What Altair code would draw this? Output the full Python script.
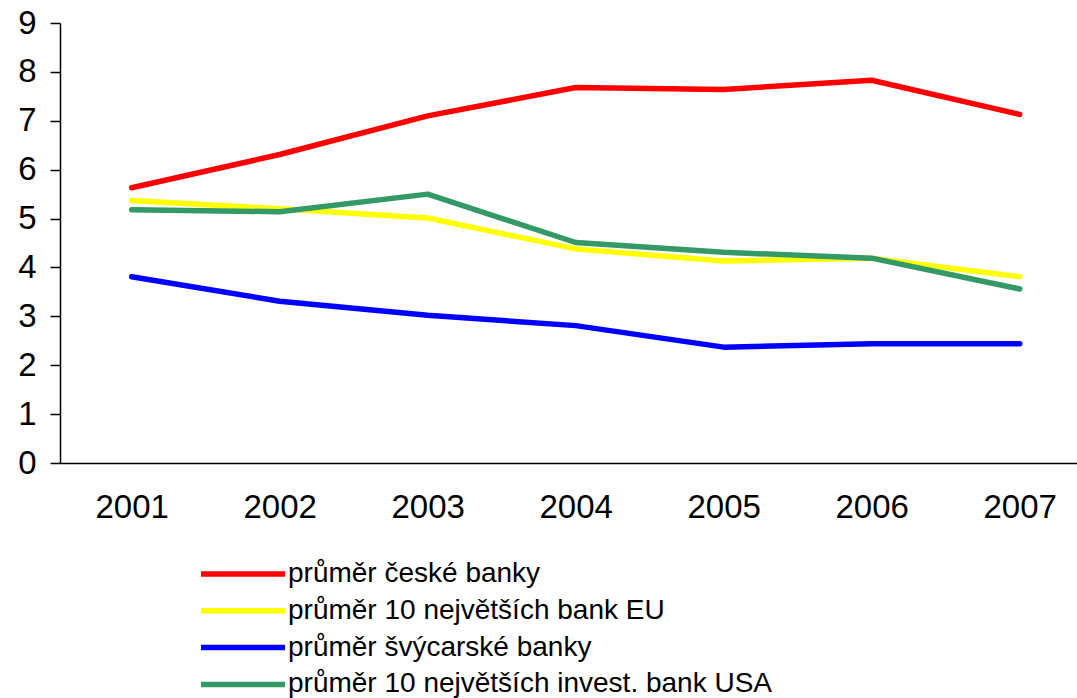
import altair as alt
import pandas as pd

years = [2001, 2002, 2003, 2004, 2005, 2006, 2007]
series_names = [
    "průměr české banky",
    "průměr 10 největších bank EU",
    "průměr švýcarské banky",
    "průměr 10 největších invest. bank USA",
]
czech = [5.63, 6.31, 7.10, 7.68, 7.64, 7.83, 7.13]
eu = [5.37, 5.20, 5.01, 4.38, 4.13, 4.19, 3.81]
swiss = [3.81, 3.31, 3.02, 2.81, 2.37, 2.44, 2.44]
usa = [5.18, 5.14, 5.50, 4.51, 4.31, 4.19, 3.56]
colors = ["#FF0000", "#FFFF00", "#0000FF", "#339966"]

rows = []
for name, vals in zip(series_names, [czech, eu, swiss, usa]):
    for y, v in zip(years, vals):
        rows.append({"rok": y, "hodnota": v, "rada": name})
df = pd.DataFrame(rows)

FONT = "Liberation Sans"

chart = alt.Chart(df).mark_line(strokeWidth=5.5, strokeCap="round", strokeJoin="round").encode(
    x=alt.X("rok:Q",
            scale=alt.Scale(domain=[2000.516, 2007.387], nice=False, zero=False),
            axis=alt.Axis(values=years, format="d", title=None, ticks=False, grid=False,
                          labelFontSize=33, labelPadding=28, labelFont=FONT, labelColor="#000",
                          domainColor="#000", domainWidth=1.5)),
    y=alt.Y("hodnota:Q",
            scale=alt.Scale(domain=[0, 9], nice=False),
            axis=alt.Axis(values=list(range(10)), title=None, grid=False, tickSize=10,
                          tickColor="#000", tickWidth=1.5, labelFontSize=33, labelPadding=14,
                          labelFont=FONT, labelColor="#000", domainColor="#000", domainWidth=1.5)),
    color=alt.Color("rada:N", scale=alt.Scale(domain=series_names, range=colors),
                    legend=alt.Legend(title=None, orient="none", legendX=166, legendY=534,
                                      symbolType="M-3,0H3", symbolSize=784, symbolStrokeWidth=5.5,
                                      symbolFillColor="transparent",
                                      labelFontSize=28, labelFont=FONT, labelColor="#000",
                                      labelOffset=28, rowPadding=5.8, labelLimit=800)),
    order=alt.Order("rok:Q"),
).properties(
    width=1017, height=440,
    padding={"left": 60, "top": 23, "right": 0, "bottom": 235},
    autosize=alt.AutoSizeParams(type="none"),
).configure_view(stroke=None)

chart.save("out.html", embed_options={"renderer": "svg", "actions": False})
